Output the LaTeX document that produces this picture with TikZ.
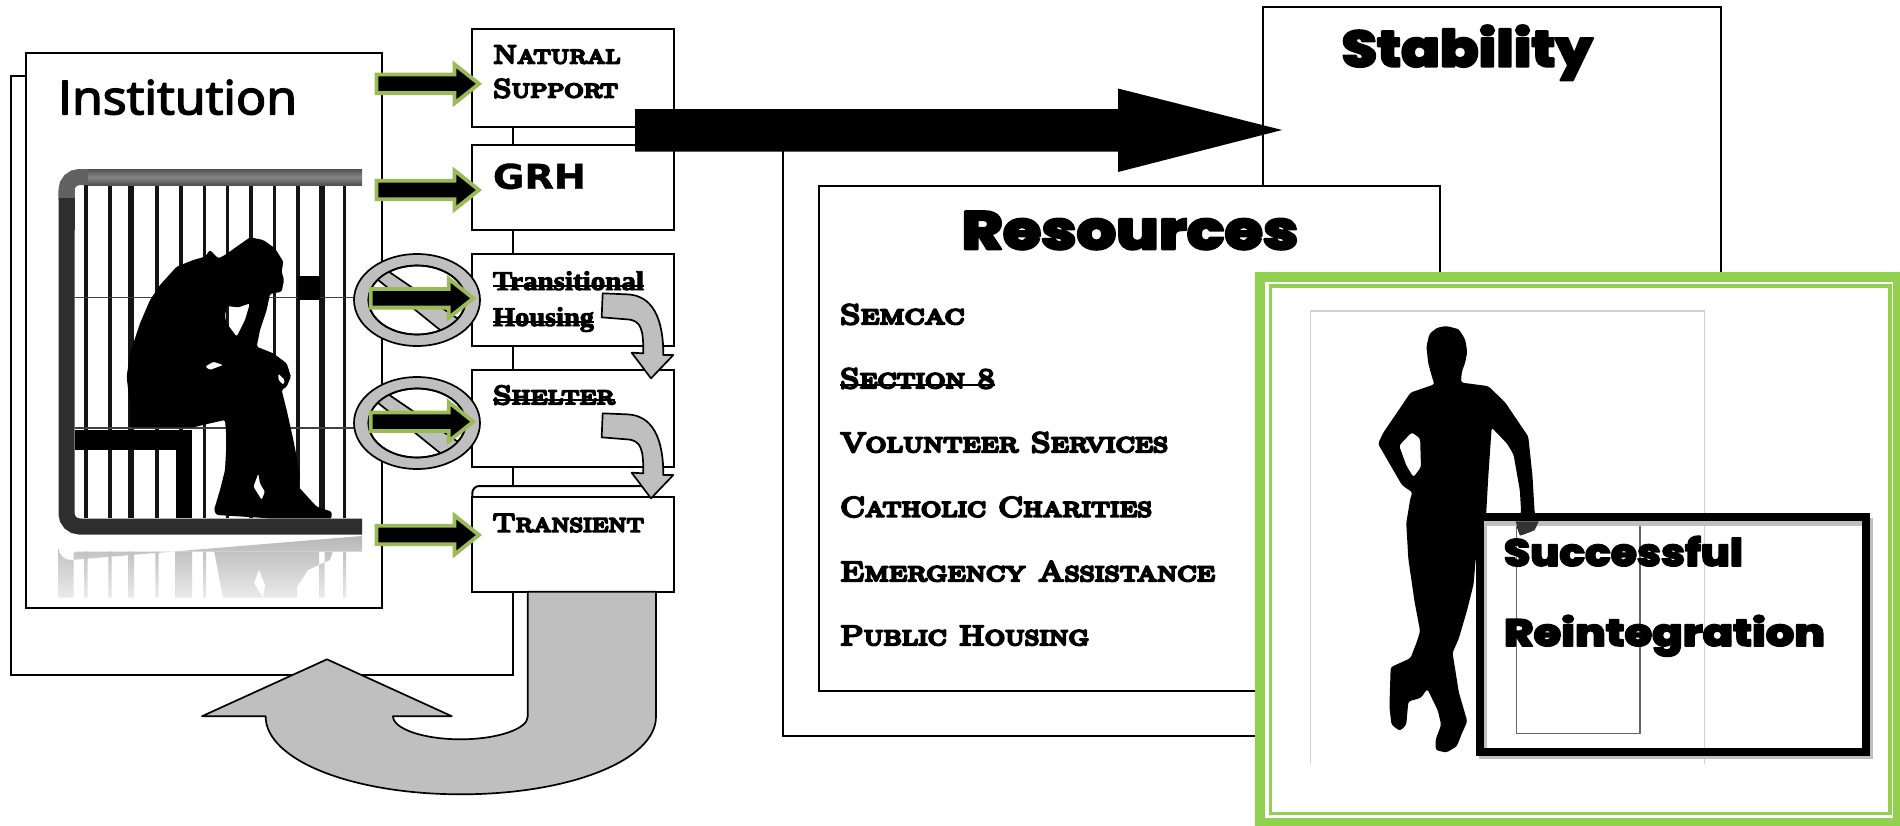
\documentclass[tikz,border=0pt]{standalone}
\usepackage{fontspec}
\usepackage{graphicx}
\newfontfamily\capsfx{lmromancaps10-regular.otf}
\newfontfamily\slabf{Liberation Serif Bold}
\newfontfamily\heavyf{Poppins ExtraBold}
\newfontfamily\instf{Open Sans}
\newfontfamily\grhf{DejaVu Sans Bold}
\newcommand{\fsz}[1]{\fontsize{#1}{#1}\selectfont}
\newcommand{\bld}[2]{\special{pdf:code q 1 j 2 Tr #1 w}#2\special{pdf:code Q}}
\newsavebox{\fitbox}
\newcommand{\fitw}[2]{\sbox{\fitbox}{#2}\pgfmathsetmacro{\fitr}{#1/(\wd\fitbox/1pt)}\scalebox{\fitr}[1]{\usebox{\fitbox}}}
\newsavebox{\strkbox}
\newcommand{\strk}[2][0.30]{\sbox{\strkbox}{#2}\rlap{\rule[#1em]{\wd\strkbox}{1.8pt}}\usebox{\strkbox}}
\newcommand{\capt}[4]{\fitw{#2}{\capsfx\fsz{#1}\bld{#3}{#4}}}
\newcommand{\bx}[5]{\node[boxsty,minimum width={(#4-#2)*1pt},minimum height={(#5-#3)*1pt}] (#1) at ({(#2+#4)/2},{(#3+#5)/2}) {};}
\newcommand{\curvearrowshape}{\draw[grayarrow] (788,160) -- (860,163) .. controls (935,165) and (970,230) .. (970,345) -- (1000,345) -- (933,415) -- (875,338) -- (910,340) .. controls (910,270) and (905,240) .. (860,238) -- (785,232) -- cycle;}
\definecolor{grayfill}{HTML}{BFBFBF}
\definecolor{arrgreen}{HTML}{9BBB59}
\definecolor{framegreen}{HTML}{92D050}
\tikzset{
 boxsty/.style={draw=black,line width=2pt,fill=white,inner sep=0pt,outer sep=0pt},
 lab/.style={anchor=base west,inner sep=0pt,outer sep=0pt,text=black},
 grayarrow/.style={draw=black,line width=1.7pt,fill=grayfill,line join=round},
 grnarrow/.pic={\draw[draw=arrgreen,fill=black,line width=3.8pt,miter limit=10]
   (0,-9.3)--(78,-9.3)--(78,-19.5)--(102.5,0)--(78,19.5)--(78,9.3)--(0,9.3)--cycle;},
 nosign/.pic={
   \draw[black,line width=1.7pt,fill=grayfill] (0,0) ellipse[x radius=63,y radius=46];
   \draw[black,line width=1.7pt,fill=white] (0,0) ellipse[x radius=48.5,y radius=34.5];
   \begin{scope}
   \clip (0,0) ellipse[x radius=48.5,y radius=34.5];
   \fill[grayfill] (-35,-33)--(50,25)--(33,38)--(-45,-25)--cycle;
   \draw[black,line width=1.7pt] (-35,-33)--(50,25) (33,38)--(-45,-25);
   \end{scope}
   \draw[black,line width=1.7pt] (0,0) ellipse[x radius=48.5,y radius=34.5];
 }
}
\begin{document}
\begin{tikzpicture}[x=1pt,y=-1pt]
\path[use as bounding box,fill=white] (0,0) rectangle (1900,825);

% left stack
\bx{backleft}{10.5}{76}{513.4}{675}
\bx{institution}{26}{53}{382}{607.7}

% jail picture
\foreach \bxx/\bw in {86/3.2,110/3.2,130.7/6,157/3.2,181/3.2,204.5/3.2,227.7/3.2,251/3.2,274.6/3.2,298/3.2,321.7/5.7,344.6/3.2}
  \fill[black!92] ({\bxx-\bw/2},185) rectangle ({\bxx+\bw/2},518);
\draw[black!75,line width=1.5pt] (75,297.7)--(362,297.7) (75,428)--(362,428);
\fill[black] (298.3,276) rectangle (320,299.5);
\fill[black] (75,430) rectangle (191.7,450);
\fill[black] (175.5,450) rectangle (191.7,518);
\draw[black!82,line width=16pt,rounded corners=13pt] (362,526.5)--(66.5,526.5)--(66.5,190);
\draw[black!62,line width=16pt,rounded corners=13pt] (90,177)--(66.5,177)--(66.5,200);
\draw[black!82,line width=16pt] (66.5,198)--(66.5,230);
\shade[top color=black!68,bottom color=black!68,middle color=black!48] (88,169) rectangle (362,185);
% reflection
\shade[top color=black!28,bottom color=black!8]
  (58.5,597.7)--(58.5,548) arc[start angle=180,end angle=90,radius=12] -- (362,536) -- (362,551.7)--(76,551.7)--(73.7,553)--(73.7,597.7)--cycle;
\begin{scope}
\clip (58,536) rectangle (362,597.7);
\shade[top color=black!24,bottom color=black!8]
  (84.4,551.7) rectangle (87.6,597.7)
  (108.4,551.7) rectangle (111.6,597.7)
  (128,551.7) rectangle (134,597.7)
  (155.4,551.7) rectangle (158.6,597.7)
  (175,551.7) rectangle (192,597.7)
  (203,551.7) rectangle (206,597.7)
  (214.3,551.7)--(332.6,551.7)--(330,560)--(308,570)--(297,587)--(297,597.7)--(223,597.7)--cycle
  (319,551.7) rectangle (324.5,597.7)
  (343,551.7) rectangle (346,597.7);
\fill[white] (259,570)--(254,583)--(263,597.7)--(265,585)--cycle;
\end{scope}
% sitting man
\begin{scope}[shift={(110,220)},scale=1/3]
\fill[black,even odd rule,rounded corners=1.5pt]
 (345,105)--(380,80)--(420,52)--(460,60)--(495,85)--(520,125)--(515,155)--(522,180)--(515,215)--(480,222)--(470,270)--(450,330)--(440,380)--(490,400)--(530,430)--(543,470)--(530,500)--(515,510)--(530,570)--(550,660)--(560,710)--(570,770)--(565,800)--(620,860)--(665,875)--(665,895)--(480,895)--(320,885)--(312,870)--(330,810)--(345,750)--(350,660)--(345,600)--(300,610)--(250,622)--(60,622)--(60,560)--(50,470)--(60,400)--(90,310)--(120,240)--(150,195)--(200,140)--(250,120)--(285,110)--(300,90)--(325,115)--cycle
 (350,258)--(385,262)--(420,250)--(405,300)--(380,350)--(350,310)--(345,290)--cycle
 (285,440)--(310,425)--(340,435)--(300,450)--cycle
 (505,460)--(525,480)--(520,495)--(505,480)--cycle
 (445,760)--(450,790)--(465,815)--(455,840)--(430,800)--cycle;
\end{scope}

% right back boxes
\bx{backres}{783}{130}{1270}{735.5}
\bx{stability}{1263}{7}{1720.6}{280}
\bx{resources}{819}{186}{1439.5}{690.5}

% steps
\bx{natural}{472.3}{28.5}{674}{127}
\bx{grh}{472.3}{144.5}{674}{230}
\bx{transitional}{472.3}{254}{674}{346}
\bx{shelter}{472.3}{370}{674}{466.7}
\filldraw[draw=black,fill=white,line width=2pt,rounded corners=7pt] (472.3,515)--(472.3,486)--(650,486)--(650,515)--cycle;
\bx{transient}{472.3}{497.3}{674}{591.7}

% signs and small arrows
\pic at (417,300) {nosign};
\pic at (417,423) {nosign};
\pic at (376.5,83.8) {grnarrow};
\pic at (376.5,190) {grnarrow};
\pic at (370.8,298.3) {grnarrow};
\pic at (370.8,421.7) {grnarrow};
\pic at (376.5,535) {grnarrow};

% curved arrows
\begin{scope}[shift={(340,240)},scale=1/3]
\curvearrowshape
\end{scope}
\begin{scope}[shift={(340,360)},scale=1/3]
\curvearrowshape
\end{scope}

% big return arrow
\draw[grayarrow] (527.7,591.7) -- (527.7,716.7)
 .. controls (527.7,729) and (497,739.3) .. (460.4,739.3)
 .. controls (424,739.3) and (393,729) .. (393,716.2)
 -- (451.8,716.2) -- (327,659.3) -- (202,716.2) -- (265.6,716.2)
 .. controls (265.6,760) and (352,794.3) .. (461,794.3)
 .. controls (570,794.3) and (656,760) .. (656,716.7)
 -- (656,591.7) -- cycle;

% big black arrow
\fill[black] (635,109)--(1118,109)--(1118,88.5)--(1282,130)--(1118,172)--(1118,151.7)--(635,151.7)--cycle;

% reintegration panel
\fill[white] (1260,277) rectangle (1900,825);
\draw[framegreen,line width=9.6pt] (1260.2,276.8) rectangle (1897.5,823);
\draw[framegreen,line width=3.5pt] (1270.3,286) rectangle (1889.8,813.5);
\draw[black!18,line width=1.2pt] (1310.7,763.8)--(1310.7,311)--(1704.6,311)--(1704.6,763.8);
\begin{scope}[shift={(1240,260)},xscale=1/2.376,yscale=1/2.775]
\fill[black,even odd rule,rounded corners=2.5pt]
 (490,183)--(520,192)--(535,220)--(540,255)--(535,285)--(527,310)--(525,340)--(590,350)--(630,395)--(685,490)--(695,600)--(700,700)--(710,730)--(695,752)--(665,765)--(655,730)--(668,700)--(665,640)--(650,540)--(635,510)--(598,465)--(590,600)--(585,703)--(580,760)--(560,830)--(555,900)--(540,970)--(520,1050)--(505,1090)--(520,1200)--(540,1280)--(525,1320)--(515,1350)--(490,1367)--(465,1360)--(465,1330)--(478,1290)--(470,1250)--(445,1190)--(430,1215)--(400,1225)--(395,1290)--(380,1307)--(360,1290)--(355,1240)--(358,1130)--(405,1105)--(420,1060)--(428,1030)--(415,950)--(400,830)--(395,730)--(405,660)--(410,645)--(385,625)--(328,510)--(340,480)--(375,420)--(405,368)--(462,345)--(455,320)--(447,285)--(443,240)--(450,205)--(468,188)--cycle
 (378,515)--(408,478)--(428,495)--(430,575)--(412,603)--(395,570)--cycle;
\end{scope}
\draw[black!60,line width=1.2pt] (1516.5,519.5) rectangle (1640,733.5);
\draw[grayfill,line width=8pt] (1483,522) rectangle (1869,755);
\begin{scope}[shift={(1240,260)},xscale=1/2.376,yscale=1/2.775]
\fill[black!80] (655,725)--(710,725)--(700,750)--(665,765)--cycle;
\end{scope}
\draw[black,line width=8pt] (1480,517.3) rectangle (1866,751.5);

% labels
\node[lab] (tinst) at (58,114.3) {\fitw{239}{\instf\fsz{47}\bld{1.5}{Institution}}};
\node[lab] (tnat) at (493,63.3) {\capt{26}{127.5}{2}{Natural}};
\node[lab] (tsup) at (493,97.3) {\capt{26}{125}{2}{Support}};
\node[lab] (tgrh) at (493,188.7) {\fitw{93}{\grhf\fsz{34}\bld{0.4}{GRH}}};
\node[lab] (ttra) at (493,290) {\strk[0.33]{\fitw{151}{\slabf\fsz{27}\bld{0.9}{Transitional}}}};
\node[lab] (thou) at (493,326) {\strk[0.33]{\fitw{101}{\slabf\fsz{27}\bld{0.9}{Housing}}}};
\node[lab] (tshe) at (493,404) {\strk[0.32]{\capt{26}{122}{2}{Shelter}}};
\node[lab] (ttrt) at (492.4,531.7) {\capt{26}{151.6}{2}{Transient}};
\node[lab] (tsta) at (1341.7,66.7) {\fitw{251}{\heavyf\fsz{51}\bld{2}{Stability}}};
\node[lab] (tres) at (961.7,249.3) {\fitw{336.6}{\heavyf\fsz{54}\bld{2.2}{Resources}}};
\node[lab] (tse1) at (840,324) {\capt{28}{124.5}{2.2}{Semcac}};
\node[lab] (tse2) at (840,388) {\strk[0.25]{\capt{28}{155}{2.2}{Section 8}}};
\node[lab] (tvol) at (840,452) {\capt{28}{328}{2.2}{Volunteer Services}};
\node[lab] (tcat) at (840,516.6) {\capt{28}{312}{2.2}{Catholic Charities}};
\node[lab] (teme) at (840,581) {\capt{28}{375}{2.2}{Emergency Assistance}};
\node[lab] (tpub) at (840,645) {\capt{28}{249}{2.2}{Public Housing}};
\node[lab] (tsuc) at (1504,566) {\fitw{239}{\heavyf\fsz{38}\bld{1.5}{Successful}}};
\node[lab] (trei) at (1504,646) {\fitw{321}{\heavyf\fsz{38}\bld{1.5}{Reintegration}}};
\end{tikzpicture}
\end{document}
